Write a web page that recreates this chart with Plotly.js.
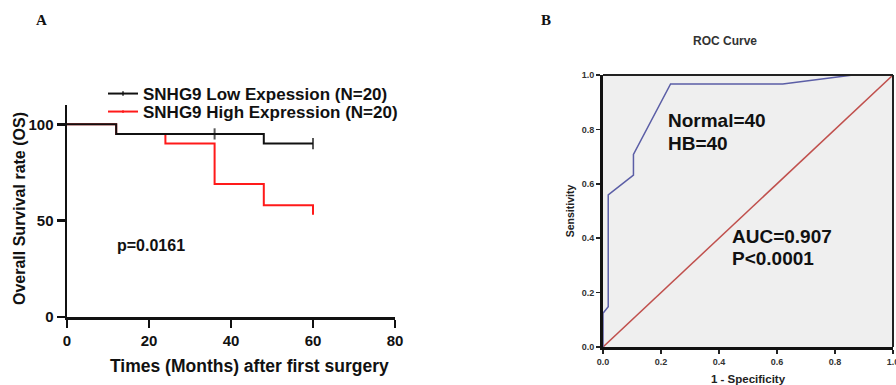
<!DOCTYPE html>
<html>
<head>
<meta charset="utf-8">
<script src="https://cdn.plot.ly/plotly-3.0.1.min.js"></script>
<style>html,body{margin:0;padding:0;background:#fff;}#chart{width:896px;height:385px;}</style>
</head>
<body>
<div id="chart"></div>
<script>
// ---- Panel A: Kaplan-Meier data ----
var lowTime = [0, 12, 36, 48, 60];
var lowSurv = [100, 95, 95, 90, 90];
var lowCensored = [0, 0, 1, 0, 1];
var highTime = [0, 12, 24, 36, 48, 60];
var highSurv = [100, 95, 90, 69, 58, 53];
var highCensored = [0, 0, 0, 0, 0, 0];
var lowName = 'SNHG9 Low Expession (N=20)';
var highName = 'SNHG9 High Expression (N=20)';
var kmXTicks = [0, 20, 40, 60, 80];
var kmYTicks = [0, 50, 100];
var pValueText = 'p=0.0161';

// ---- Panel B: ROC data ----
var rocFPR = [0, 0, 0.018, 0.018, 0.105, 0.105, 0.233, 0.62, 0.862, 1];
var rocTPR = [0, 0.124, 0.148, 0.559, 0.632, 0.708, 0.967, 0.967, 1, 1];
var refFPR = [0, 1];
var refTPR = [0, 1];
var rocTicks = [0, 0.2, 0.4, 0.6, 0.8, 1.0];
var rocTickText = ['0.0', '0.2', '0.4', '0.6', '0.8', '1.0'];
var groupLines = ['Normal=40', 'HB=40'];
var aucLines = ['AUC=0.907', 'P<0.0001'];

var W = 896, H = 385;
function px(x) { return x / W; }
function py(y) { return (H - y) / H; }
var FONT = 'Liberation Sans, Arial, sans-serif';

function censorSizes(flags) { return flags.map(function (f) { return f ? 8 : 0; }); }

var traces = [
  {
    x: highTime, y: highSurv, name: highName, type: 'scatter', mode: 'lines+markers',
    line: { shape: 'hv', color: '#ff1a1a', width: 2 },
    marker: { symbol: 'line-ns-open', size: censorSizes(highCensored), line: { color: '#ff1a1a', width: 2 } },
    xaxis: 'x', yaxis: 'y', legend: 'legend2'
  },
  {
    x: lowTime, y: lowSurv, name: lowName, type: 'scatter', mode: 'lines+markers',
    line: { shape: 'hv', color: '#111111', width: 2 },
    marker: { symbol: 'line-ns-open', size: censorSizes(lowCensored), line: { color: '#111111', width: 2 } },
    xaxis: 'x', yaxis: 'y', legend: 'legend'
  },
  {
    x: refFPR, y: refTPR, type: 'scatter', mode: 'lines', showlegend: false,
    line: { color: '#c0504d', width: 1.5 }, xaxis: 'x2', yaxis: 'y2'
  },
  {
    x: rocFPR, y: rocTPR, type: 'scatter', mode: 'lines', showlegend: false,
    line: { color: '#5b5ea6', width: 1.5 }, xaxis: 'x2', yaxis: 'y2'
  }
];

function txt(text, x, y, size, extra) {
  var a = { text: text, xref: 'paper', yref: 'paper', x: px(x), y: py(y), xanchor: 'center', yanchor: 'middle',
    showarrow: false, font: { family: FONT, size: size, color: '#111', weight: 'bold' } };
  if (extra) { for (var k in extra) a[k] = extra[k]; }
  return a;
}

var annotations = [
  txt('A', 41, 20, 15, { font: { family: 'Liberation Serif, Times New Roman, serif', size: 15, color: '#111', weight: 'bold' } }),
  txt('B', 546, 20, 15, { font: { family: 'Liberation Serif, Times New Roman, serif', size: 15, color: '#111', weight: 'bold' } }),
  txt('Times (Months) after first surgery', 249, 366, 17.5),
  txt('Overall Survival rate (OS)', 19, 209, 16, { textangle: -90 }),
  txt(pValueText, 115, 245, 16, { xanchor: 'left' }),
  txt('ROC Curve', 725, 41, 12, { font: { family: FONT, size: 12, color: '#333', weight: 'bold' } })
];
var groupY = [120, 143];
groupLines.forEach(function (t, i) { annotations.push(txt(t, 666, groupY[i], 19, { xanchor: 'left' })); });
var aucY = [236, 258];
aucLines.forEach(function (t, i) { annotations.push(txt(t, 730, aucY[i], 19, { xanchor: 'left' })); });

var legendStyle = function (yc) {
  return {
    x: px(103), y: py(yc), xanchor: 'left', yanchor: 'middle',
    bgcolor: 'rgba(0,0,0,0)', borderwidth: 0,
    font: { family: FONT, size: 17, color: '#111', weight: 'bold' },
    itemclick: false
  };
};

var layout = {
  width: W, height: H,
  margin: { l: 0, r: 0, t: 0, b: 0 },
  paper_bgcolor: '#ffffff', plot_bgcolor: 'rgba(0,0,0,0)',
  font: { family: FONT, color: '#111' },
  showlegend: true,
  legend: legendStyle(94),
  legend2: legendStyle(112),
  xaxis: {
    domain: [px(67), px(395)], range: [0, 80], anchor: 'y',
    tickvals: kmXTicks, ticks: 'outside', ticklen: 8, tickwidth: 2.5, tickcolor: '#111',
    showline: true, linewidth: 2.5, linecolor: '#111', showgrid: false, zeroline: false,
    tickfont: { family: FONT, size: 15, color: '#111', weight: 'bold' }
  },
  yaxis: {
    domain: [py(317), py(105)], range: [0, 110], anchor: 'x',
    tickvals: kmYTicks, ticks: 'outside', ticklen: 8, tickwidth: 2.5, tickcolor: '#111',
    showline: true, linewidth: 2.5, linecolor: '#111', showgrid: false, zeroline: false,
    tickfont: { family: FONT, size: 15, color: '#111', weight: 'bold' }
  },
  xaxis2: {
    domain: [px(603), px(893)], range: [0, 1], anchor: 'y2',
    tickvals: rocTicks, ticktext: rocTickText, ticks: 'outside', ticklen: 4, tickwidth: 1.5, tickcolor: '#222',
    showline: true, linewidth: 3, linecolor: '#111', showgrid: false, zeroline: false,
    ticklabeloverflow: 'allow',
    tickfont: { family: FONT, size: 9, color: '#333', weight: 'bold' },
    title: { text: '1 - Specificity', standoff: 10, font: { family: FONT, size: 11.5, color: '#222', weight: 'bold' } }
  },
  yaxis2: {
    domain: [py(347), py(75)], range: [0, 1], anchor: 'x2',
    tickvals: rocTicks, ticktext: rocTickText, ticks: 'outside', ticklen: 4, tickwidth: 1.5, tickcolor: '#222',
    showline: true, linewidth: 3, linecolor: '#111', showgrid: false, zeroline: false,
    tickfont: { family: FONT, size: 9, color: '#333', weight: 'bold' },
    title: { text: 'Sensitivity', standoff: 6, font: { family: FONT, size: 10.5, color: '#222', weight: 'bold' } }
  },
  shapes: [
    { type: 'rect', xref: 'x2 domain', yref: 'y2 domain', x0: 0, x1: 1, y0: 0, y1: 1,
      fillcolor: '#efefef', line: { width: 0 }, layer: 'below' },
    { type: 'line', xref: 'x2 domain', yref: 'y2 domain', x0: 0, x1: 1, y0: 1, y1: 1,
      line: { color: '#222', width: 2 } },
    { type: 'line', xref: 'x2 domain', yref: 'y2 domain', x0: 1, x1: 1, y0: 0, y1: 1,
      line: { color: '#222', width: 2 } }
  ],
  annotations: annotations
};

Plotly.newPlot('chart', traces, layout, { displayModeBar: false, staticPlot: true });
</script>
</body>
</html>
